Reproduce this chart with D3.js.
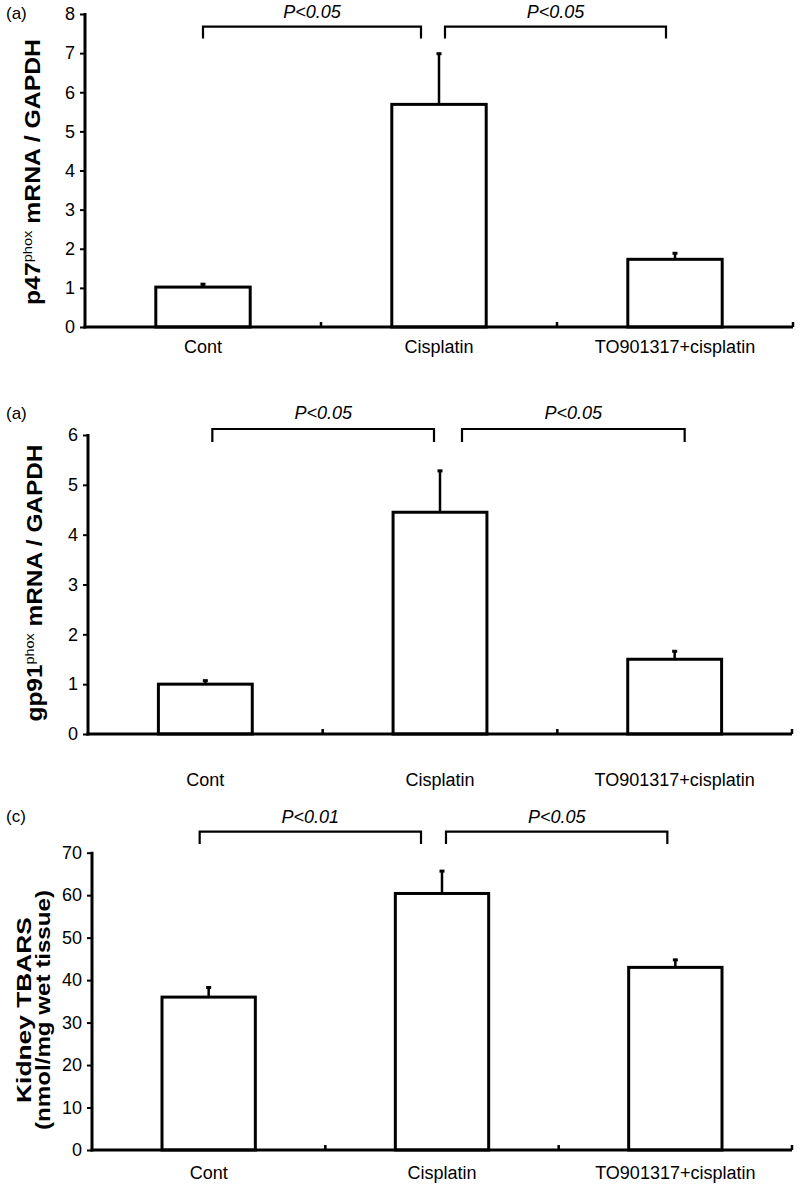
<!DOCTYPE html>
<html>
<head>
<meta charset="utf-8">
<script src="https://cdn.jsdelivr.net/npm/d3@7"></script>
<style>
  html, body { margin: 0; padding: 0; background: #fff; }
  svg { display: block; }
  text { font-family: "Liberation Sans", Arial, sans-serif; fill: #000; }
</style>
</head>
<body>
<svg id="chart" width="800" height="1187"></svg>
<script>
// ---- data ----
const categories = ["Cont", "Cisplatin", "TO901317+cisplatin"];

const p47Values = [1.02, 5.69, 1.73];
const p47Errors = [0.10, 1.32, 0.18];
const p47Ticks = [0, 1, 2, 3, 4, 5, 6, 7, 8];

const gp91Values = [1.00, 4.45, 1.50];
const gp91Errors = [0.09, 0.85, 0.18];
const gp91Ticks = [0, 1, 2, 3, 4, 5, 6];

const tbarsValues = [36.0, 60.4, 43.0];
const tbarsErrors = [2.5, 5.5, 2.0];
const tbarsTicks = [0, 10, 20, 30, 40, 50, 60, 70];

const panelLetters = ["(a)", "(a)", "(c)"];
const pLabels1 = ["P<0.05", "P<0.05"];
const pLabels2 = ["P<0.05", "P<0.05"];
const pLabels3 = ["P<0.01", "P<0.05"];
// comparisons: [from category, to category]
const comparisons = [[0, 1], [1, 2]];

// ---- layout ----
const svg = d3.select("#chart");

const panels = [
  { values: p47Values, errors: p47Errors, ticks: p47Ticks, max: 8, letter: panelLetters[0], pl: pLabels1,
    x0: 85, x1: 793, yBase: 327, yTop: 14, letterY: 19, catY: 353,
    brTop: 26.7, brEnd: 38.5, brOff: [[0, -18], [6, -9]], pY: 18,
    ylab: { lines: [["p47", "phox", " mRNA / GAPDH"]], x: [40], cy: 172, len: [266], fs: 22 } },
  { values: gp91Values, errors: gp91Errors, ticks: gp91Ticks, max: 6, letter: panelLetters[1], pl: pLabels2,
    x0: 88, x1: 792, yBase: 734, yTop: 435, letterY: 419, catY: 786,
    brTop: 429, brEnd: 442, brOff: [[7, -6], [22, 10]], pY: 419,
    ylab: { lines: [["gp91", "phox", " mRNA / GAPDH"]], x: [42], cy: 583, len: [277], fs: 22 } },
  { values: tbarsValues, errors: tbarsErrors, ticks: tbarsTicks, max: 70, letter: panelLetters[2], pl: pLabels3,
    x0: 92, x1: 792, yBase: 1150, yTop: 852.7, letterY: 822, catY: 1179,
    brTop: 831.7, brEnd: 844, brOff: [[-9, -21], [4, -8]], pY: 823,
    ylab: { lines: [["Kidney TBARS"], ["(nmol/mg wet tissue)"]], x: [31, 50], cy: 1010, len: [186, 240], fs: 20 } }
];

panels.forEach(p => {
  const g = svg.append("g");
  const x = d3.scaleBand().domain(categories).range([p.x0, p.x1]).padding(0);
  const y = d3.scaleLinear().domain([0, p.max]).range([p.yBase, p.yTop]);
  const bw = x.bandwidth() * 0.4;
  const cx = c => x(c) + x.bandwidth() / 2;

  // bars
  g.selectAll("rect.bar").data(categories).enter().append("rect")
    .attr("x", c => cx(c) - bw / 2)
    .attr("y", (c, i) => y(p.values[i]))
    .attr("width", bw)
    .attr("height", (c, i) => y(0) - y(p.values[i]))
    .attr("fill", "#fff").attr("stroke", "#000").attr("stroke-width", 3);

  // error bars (upper only)
  g.selectAll("line.err").data(categories).enter().append("line")
    .attr("x1", cx).attr("x2", cx)
    .attr("y1", (c, i) => y(p.values[i]))
    .attr("y2", (c, i) => y(p.values[i] + p.errors[i]))
    .attr("stroke", "#000").attr("stroke-width", 2.5);
  g.selectAll("line.cap").data(categories).enter().append("line")
    .attr("x1", c => cx(c) - 2.5).attr("x2", c => cx(c) + 2.5)
    .attr("y1", (c, i) => y(p.values[i] + p.errors[i]) + 1)
    .attr("y2", (c, i) => y(p.values[i] + p.errors[i]) + 1)
    .attr("stroke", "#000").attr("stroke-width", 3);

  // y axis
  const yAxis = d3.axisLeft(y).tickValues(p.ticks).tickFormat(d3.format("d"))
    .tickSize(5).tickSizeOuter(0).tickPadding(5);
  const ya = g.append("g").attr("transform", `translate(${p.x0},0)`).call(yAxis);
  ya.select(".domain").attr("stroke", "#000").attr("stroke-width", 3)
    .attr("d", `M0,${p.yTop - 1}V${p.yBase + 1.5}`);
  ya.selectAll(".tick line").attr("stroke", "#000").attr("stroke-width", 2);
  ya.selectAll(".tick text").attr("font-size", 18)
    .style("font-family", "'Liberation Sans', Arial, sans-serif").attr("fill", "#000");

  // x axis
  const xa = g.append("g").attr("transform", `translate(0,${p.yBase})`);
  xa.append("line").attr("x1", p.x0 - 1.5).attr("x2", p.x1).attr("y1", 0).attr("y2", 0)
    .attr("stroke", "#000").attr("stroke-width", 3);
  const bounds = categories.map(c => x(c) + x.bandwidth());
  xa.selectAll("line.xt").data(bounds).enter().append("line")
    .attr("x1", d => d).attr("x2", d => d).attr("y1", -5).attr("y2", 0)
    .attr("stroke", "#000").attr("stroke-width", 2.5);
  xa.selectAll("text.cat").data(categories).enter().append("text")
    .attr("x", cx).attr("y", p.catY - p.yBase)
    .attr("text-anchor", "middle").attr("font-size", 18).text(d => d);

  // panel letter
  g.append("text").attr("x", 6).attr("y", p.letterY).attr("font-size", 17).text(p.letter);

  // significance brackets
  comparisons.forEach((cmp, k) => {
    const xa1 = cx(categories[cmp[0]]) + p.brOff[k][0];
    const xb1 = cx(categories[cmp[1]]) + p.brOff[k][1];
    g.append("path")
      .attr("d", `M${xa1},${p.brEnd}V${p.brTop}H${xb1}V${p.brEnd}`)
      .attr("fill", "none").attr("stroke", "#000").attr("stroke-width", 2.2);
    g.append("text").attr("x", (xa1 + xb1) / 2).attr("y", p.pY)
      .attr("text-anchor", "middle").attr("font-size", 18).attr("font-style", "italic")
      .text(p.pl[k]);
  });

  // y label (rotated, bold), stretched to measured length
  p.ylab.lines.forEach((parts, li) => {
    const t = g.append("text").attr("text-anchor", "middle")
      .attr("font-size", p.ylab.fs).attr("font-weight", "bold");
    parts.forEach((s, si) => {
      const ts = t.append("tspan").text(s);
      if (parts.length === 3 && si === 1) {
        ts.attr("font-size", 13).attr("font-weight", "normal").attr("dy", -8);
      } else if (parts.length === 3 && si === 2) {
        ts.attr("dy", 8);
      }
    });
    const len = t.node().getComputedTextLength();
    const sx = p.ylab.len[li] / len;
    t.attr("transform", `translate(${p.ylab.x[li]},${p.ylab.cy}) rotate(-90) scale(${sx},1)`);
  });
});
</script>
</body>
</html>
